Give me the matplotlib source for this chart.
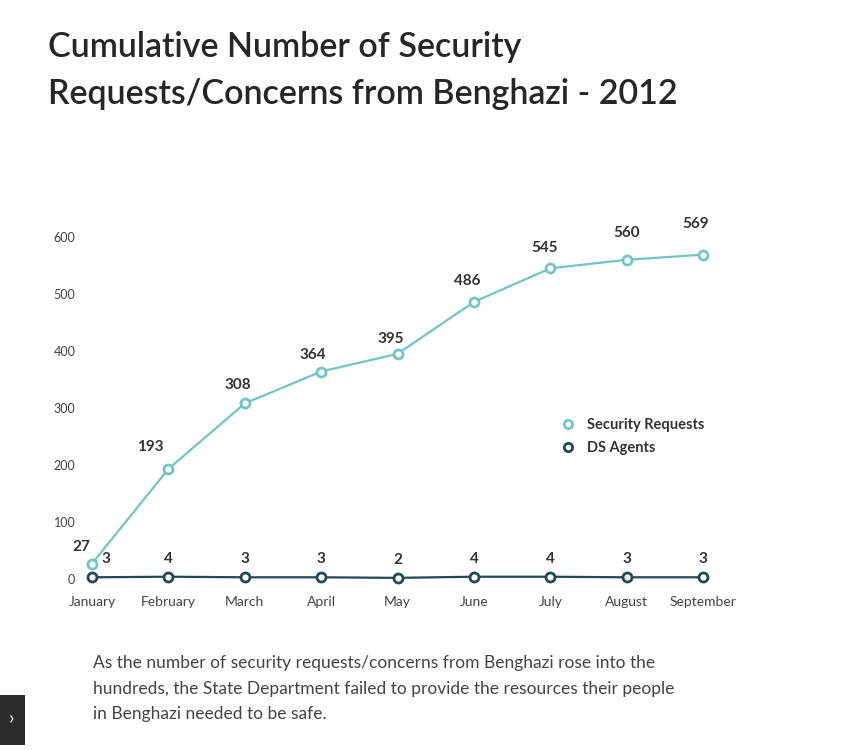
import matplotlib
matplotlib.use("Agg")
import matplotlib.pyplot as plt
from matplotlib.lines import Line2D
from matplotlib.patches import Rectangle

MONTHS = ["January", "February", "March", "April", "May", "June",
          "July", "August", "September"]
SECURITY_REQUESTS = [27, 193, 308, 364, 395, 486, 545, 560, 569]
DS_AGENTS = [3, 4, 3, 3, 2, 4, 4, 3, 3]
Y_TICKS = [0, 100, 200, 300, 400, 500, 600]

TITLE = "Cumulative Number of Security\nRequests/Concerns from Benghazi - 2012"
CAPTION = ("As the number of security requests/concerns from Benghazi rose into the\n"
           "hundreds, the State Department failed to provide the resources their people\n"
           "in Benghazi needed to be safe.")

LIGHT = "#72c5c5"
DARK = "#1f4a55"
TEXT = "#333333"

plt.rcParams["font.family"] = ["Lato", "DejaVu Sans"]


def main():
    fig = plt.figure(figsize=(8.63, 7.5), dpi=100)
    fig.patch.set_facecolor("white")

    ax = fig.add_axes([92 / 863, 1 - 579 / 750, 611 / 863, 342 / 750])
    x = list(range(len(MONTHS)))

    ax.plot(x, SECURITY_REQUESTS, color=LIGHT, lw=1.6, marker="o", ms=6.5,
            mfc="white", mec=LIGHT, mew=2, clip_on=False, zorder=3)
    ax.plot(x, DS_AGENTS, color=DARK, lw=1.6, marker="o", ms=6.5,
            mfc="white", mec=DARK, mew=2, clip_on=False, zorder=4)

    # value labels (offsets in points)
    sec_off = [(-8, 12), (-13, 16), (-5, 13), (-6, 12), (-5, 11), (-5, 15), (-4, 15), (0, 19), (-5, 22)]
    for i, v in enumerate(SECURITY_REQUESTS):
        ax.annotate(str(v), (x[i], v), xytext=sec_off[i], textcoords="offset points",
                    ha="center", va="center", fontsize=11, fontweight="bold", color=TEXT)
    for i, v in enumerate(DS_AGENTS):
        dx = 10 if i == 0 else 0
        ax.annotate(str(v), (x[i], v), xytext=(dx, 13), textcoords="offset points",
                    ha="center", va="center", fontsize=11, fontweight="bold", color=TEXT)

    ax.set_xlim(0, len(MONTHS) - 1)
    ax.set_ylim(0, 600)
    ax.set_xticks(x)
    ax.set_xticklabels(MONTHS, fontsize=10, color="#444444")
    ax.tick_params(axis="both", length=0)
    ax.set_yticks(Y_TICKS)
    ax.set_yticklabels([str(t) for t in Y_TICKS], fontsize=9, color="#444444")
    ax.tick_params(axis="x", pad=12)
    ax.tick_params(axis="y", pad=12)
    for s in ax.spines.values():
        s.set_visible(False)
    ax.set_facecolor("none")

    handles = [
        Line2D([], [], ls="none", marker="o", ms=6, mfc="white", mec=LIGHT, mew=2),
        Line2D([], [], ls="none", marker="o", ms=6, mfc="white", mec=DARK, mew=2),
    ]
    fig.legend(handles, ["Security Requests", "DS Agents"], loc="upper left",
               bbox_to_anchor=(548 / 863, 1 - 405 / 750), frameon=False,
               handlelength=1.0, handletextpad=0.8, labelspacing=0.6,
               prop={"size": 10.5, "weight": "bold"}, labelcolor=TEXT)

    fig.text(48 / 863, 1 - 31 / 750, TITLE, ha="left", va="top", fontsize=24.5,
             fontweight="semibold", color="#262626", linespacing=1.58)

    fig.text(93 / 863, 1 - 655 / 750, CAPTION, ha="left", va="top", fontsize=12.5,
             color="#444444", linespacing=1.75)

    # small page widget in the corner
    fig.patches.append(Rectangle((0, 1 - 745 / 750), 25 / 863, 50 / 750,
                                 transform=fig.transFigure, facecolor="#2b2b2b",
                                 edgecolor="none"))
    fig.text(12 / 863, 1 - 718 / 750, "›", ha="center", va="center",
             fontsize=14, color="white")

    fig.savefig("out.png", dpi=100, facecolor="white")


if __name__ == "__main__":
    main()
